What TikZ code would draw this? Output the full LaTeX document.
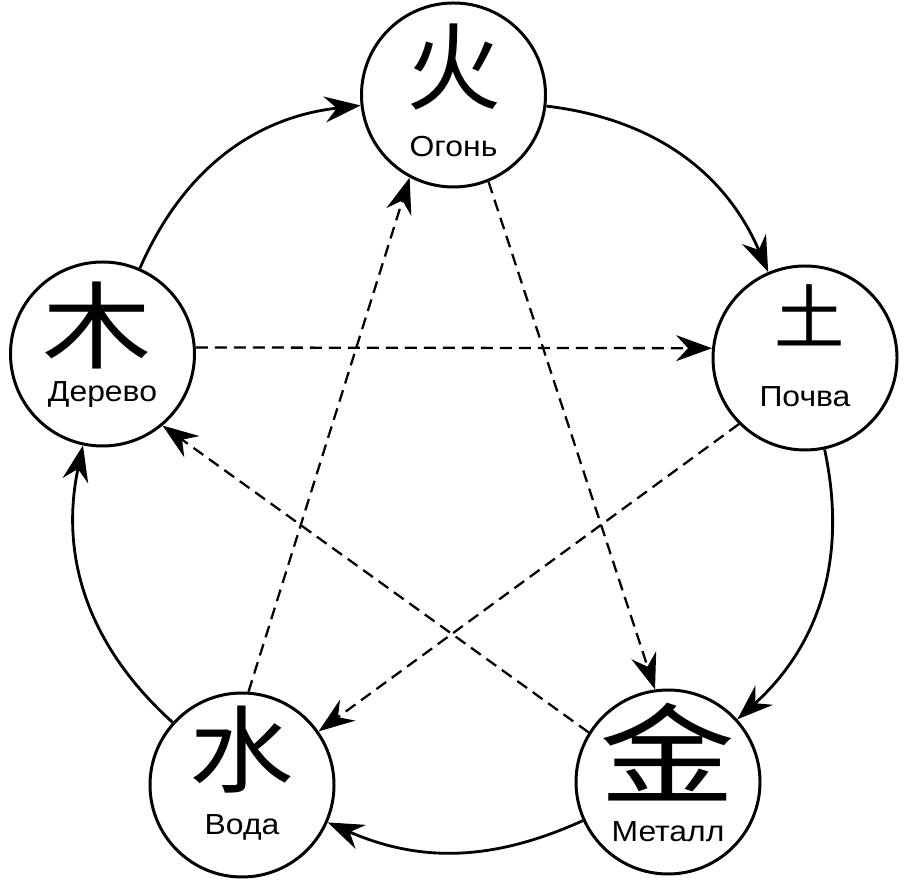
\documentclass[tikz,border=0pt]{standalone}
\usepackage{fontspec}
\newfontfamily\cjk{Noto Sans CJK SC}
\newfontfamily\lblfont{Liberation Sans}[FakeStretch=1.1]
\usetikzlibrary{arrows.meta, positioning}

\tikzset{
  elem/.style={draw, circle, line width=1.7pt, minimum size=3.68cm, inner sep=0pt},
  sym/.style={inner sep=0pt, font=\cjk\fontsize{54}{54}\selectfont},
  lbl/.style={inner sep=0pt, font=\lblfont\fontsize{16.5}{19}\selectfont},
  tip/.style={-{Stealth[length=0.72cm, width=0.52cm, inset=0.24cm]}},
  gen/.style={line width=1.6pt, tip, bend left=30},
  ctrl/.style={line width=1.3pt, dash pattern=on 0.24cm off 0.14cm, tip}
}

\begin{document}
\begin{tikzpicture}
  \useasboundingbox (0,0) rectangle (18.08,17.76);

  % Elements
  \node[elem] (fire) at (9.07, 15.86) {};
  \node[sym] (fire-s) at ([yshift=0.56cm]fire.center) {火};
  \node[lbl] (fire-l) at ([yshift=-1.04cm]fire.center) {Огонь};

  \node[elem] (wood) at (2.05, 10.68) {};
  \node[sym, xscale=1.15, transform shape] (wood-s) at ([xshift=-0.1cm, yshift=0.58cm]wood.center) {木};
  \node[lbl] (wood-l) at ([yshift=-0.82cm]wood.center) {Дерево};

  \node[elem] (earth) at (16.10, 10.60) {};
  \node[sym, font=\cjk\fontsize{40}{40}\selectfont] (earth-s) at ([xshift=0.1cm, yshift=0.86cm]earth.center) {土};
  \node[lbl] (earth-l) at ([yshift=-0.78cm]earth.center) {Почва};

  \node[elem] (water) at (4.84, 2.06) {};
  \node[sym, xscale=1.1, transform shape] (water-s) at ([yshift=0.7cm]water.center) {水};
  \node[lbl] (water-l) at ([yshift=-0.84cm]water.center) {Вода};

  \node[elem] (metal) at (13.36, 2.12) {};
  \node[sym, font=\cjk\fontsize{62}{62}\selectfont, xscale=1.25, transform shape] (metal-s) at ([yshift=0.6cm]metal.center) {金};
  \node[lbl] (metal-l) at ([yshift=-1.0cm]metal.center) {Металл};

  % Generating cycle
  \draw[gen] (wood) to (fire);
  \draw[gen] (fire) to (earth);
  \draw[gen] (earth) to (metal);
  \draw[gen, bend left=24] (metal) to (water);
  \draw[gen] (water) to (wood);

  % Controlling cycle
  \draw[ctrl] (wood.4) -- (earth.174);
  \draw[ctrl] (earth.225) -- (water.35);
  \draw[ctrl] (water.86) -- (fire.242);
  \draw[ctrl] (fire.292) -- (metal.98);
  \draw[ctrl] (metal.148) -- (wood.310);
\end{tikzpicture}
\end{document}
